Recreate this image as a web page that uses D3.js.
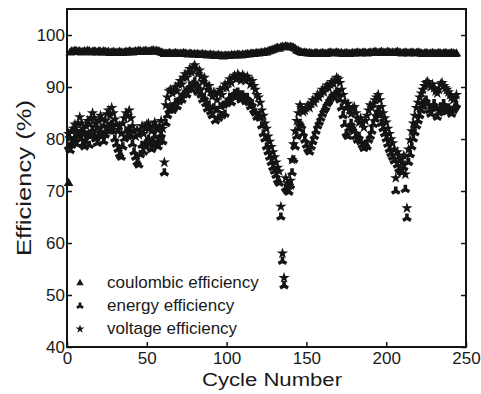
<!DOCTYPE html>
<html>
<head>
<meta charset="utf-8">
<script src="https://cdn.jsdelivr.net/npm/d3@7/dist/d3.min.js"></script>
<style>
  body { margin: 0; background: #fff; }
  svg { display: block; }
  text { font-family: "Liberation Sans", Arial, Helvetica, sans-serif; fill: #1a1a1a; }
</style>
</head>
<body>
<svg id="chart" width="481" height="394"></svg>
<script>
// Efficiency (%) per charge/discharge cycle, cycles 1..244
const coulombic = [
  71.5, 96.6, 96.8, 96.7, 96.9, 96.8, 96.7, 96.8, 96.6, 96.7,
  96.8, 96.7, 96.9, 96.8, 96.6, 96.7, 96.8, 96.7, 96.6, 96.8,
  96.7, 96.6, 96.8, 96.7, 96.6, 96.7, 96.5, 96.6, 96.7, 96.6,
  96.5, 96.6, 96.7, 96.6, 96.5, 96.6, 96.7, 96.6, 96.8, 96.7,
  96.6, 96.7, 96.8, 96.7, 96.9, 96.8, 96.7, 96.8, 96.9, 96.8,
  96.7, 96.8, 96.9, 97.0, 96.8, 96.9, 96.8, 96.7, 96.6, 96.5,
  96.3, 96.4, 96.3, 96.5, 96.4, 96.3, 96.4, 96.5, 96.4, 96.3,
  96.4, 96.3, 96.5, 96.4, 96.3, 96.2, 96.4, 96.3, 96.2, 96.3,
  96.2, 96.3, 96.1, 96.2, 96.3, 96.1, 96.2, 96.0, 96.1, 96.2,
  96.0, 96.1, 95.9, 96.0, 96.1, 95.9, 96.0, 95.8, 96.0, 95.9,
  96.0, 95.9, 96.1, 96.0, 96.1, 96.0, 96.2, 96.1, 96.0, 96.2,
  96.1, 96.2, 96.3, 96.2, 96.3, 96.4, 96.3, 96.4, 96.5, 96.4,
  96.5, 96.6, 96.5, 96.7, 96.6, 96.8, 96.9, 97.0, 97.1, 97.2,
  97.4, 97.5, 97.3, 97.6, 97.7, 97.6, 97.8, 97.7, 97.6, 97.7,
  97.6, 97.5, 97.3, 97.0, 96.9, 96.7, 96.6, 96.5, 96.6, 96.5,
  96.4, 96.5, 96.4, 96.3, 96.4, 96.5, 96.4, 96.3, 96.4, 96.5,
  96.4, 96.3, 96.4, 96.5, 96.6, 96.5, 96.4, 96.5, 96.6, 96.5,
  96.4, 96.5, 96.3, 96.4, 96.5, 96.4, 96.3, 96.4, 96.5, 96.4,
  96.5, 96.6, 96.5, 96.4, 96.5, 96.6, 96.5, 96.4, 96.5, 96.6,
  96.5, 96.6, 96.7, 96.6, 96.5, 96.6, 96.7, 96.6, 96.5, 96.6,
  96.7, 96.6, 96.5, 96.6, 96.5, 96.6, 96.7, 96.6, 96.5, 96.4,
  96.5, 96.6, 96.5, 96.4, 96.5, 96.6, 96.5, 96.4, 96.5, 96.6,
  96.5, 96.4, 96.3, 96.4, 96.5, 96.4, 96.3, 96.4, 96.5, 96.4,
  96.3, 96.4, 96.5, 96.4, 96.3, 96.4, 96.5, 96.4, 96.3, 96.4,
  96.5, 96.4, 96.3, 96.4
];

const energy = [
  78.5, 77.8, 78.8, 79.5, 80.0, 79.0, 80.5, 81.0, 80.0, 79.0,
  78.5, 79.5, 80.8, 78.8, 80.5, 81.8, 80.8, 80.0, 79.2, 80.8,
  81.5, 80.5, 79.5, 80.8, 81.8, 82.5, 81.5, 82.8, 81.5, 80.0,
  79.0, 78.0, 77.0, 76.5, 78.5, 80.0, 81.5, 80.5, 81.8, 80.5,
  79.0, 77.5, 76.5, 75.5, 75.0, 77.0, 78.8, 77.5, 78.5, 79.5,
  80.0, 79.0, 78.0, 79.2, 80.5, 79.0, 78.5, 79.5, 80.8, 79.5,
  73.5, 83.0, 84.5, 85.5, 86.2, 85.5, 86.0, 87.0, 86.2, 87.2,
  88.0, 87.5, 88.5, 89.0, 88.5, 89.5, 90.2, 89.5, 90.5, 91.0,
  90.2, 89.0, 89.8, 88.5, 87.5, 88.0, 86.8, 85.8, 86.5, 85.2,
  84.5, 86.0, 83.5, 85.5, 84.0, 86.2, 84.5, 86.5, 84.8, 86.8,
  87.2, 88.0, 87.0, 88.2, 88.8, 88.0, 89.0, 88.5, 87.5, 88.5,
  88.0, 87.2, 88.0, 87.0, 86.2, 86.8, 85.5, 85.0, 84.2, 84.5,
  84.0, 82.5, 81.0, 80.0, 78.5, 77.5, 76.5, 75.5, 74.5, 73.8,
  73.0, 72.0, 71.5, 65.0, 56.5, 51.8, 70.5, 70.0, 69.8, 71.0,
  73.5, 76.0, 78.5, 80.5, 82.0, 83.0, 82.5, 81.0, 79.8, 78.8,
  78.0, 77.5, 78.5, 79.5, 80.5, 81.5, 82.5, 83.2, 84.0, 84.8,
  85.5, 86.0, 86.8, 87.2, 87.8, 88.2, 88.0, 88.6, 89.0, 88.8,
  87.5, 86.0, 84.5, 82.8, 81.0, 80.5, 82.0, 83.0, 82.0, 81.5,
  80.5, 79.8, 80.5, 79.5, 78.8, 78.2, 79.0, 78.5, 79.8, 80.5,
  81.5, 82.8, 83.8, 84.8, 85.5, 84.5, 83.0, 82.0, 81.0, 80.0,
  79.0, 78.0, 77.2, 76.5, 75.8, 70.0, 75.0, 74.2, 73.8, 73.5,
  74.5, 70.3, 64.8, 75.5, 77.0, 78.5, 80.0, 81.2, 82.5, 83.5,
  84.5, 85.5, 86.2, 87.0, 87.5, 86.8, 85.5, 84.8, 86.0, 86.8,
  85.8, 84.2, 85.0, 86.2, 85.5, 86.8, 86.0, 85.2, 86.0, 85.5,
  84.8, 85.5, 86.0, 86.5
];

const voltage = [
  81.0, 80.2, 81.5, 82.0, 82.8, 81.5, 83.0, 84.2, 83.0, 82.0,
  81.2, 82.5, 83.5, 82.8, 84.0, 85.0, 84.0, 83.0, 82.2, 83.5,
  84.5, 83.8, 82.5, 83.5, 84.8, 85.5, 84.5, 86.0, 85.0, 83.8,
  82.8, 81.8, 82.5, 81.0, 83.0, 84.0, 85.0, 84.5, 85.5, 84.0,
  82.5, 81.5, 80.5, 81.8, 80.8, 81.5, 82.5, 81.0, 82.0, 82.8,
  83.0, 82.2, 81.5, 82.5, 83.2, 82.0, 81.8, 82.5, 83.5, 82.0,
  75.5, 86.5, 88.0, 89.2, 89.5, 88.8, 89.5, 90.0, 89.2, 90.5,
  91.2, 90.5, 91.8, 92.5, 91.8, 92.8, 93.5, 92.8, 93.8, 94.2,
  93.5, 92.5, 93.2, 92.0, 91.0, 91.8, 90.5, 89.5, 90.2, 89.0,
  88.2, 89.0, 88.5, 87.5, 88.8, 89.5, 88.5, 89.8, 90.5, 89.8,
  90.8, 91.5, 90.8, 91.8, 92.2, 91.5, 92.5, 92.0, 91.2, 92.3,
  92.0, 91.2, 92.0, 91.5, 90.5, 91.2, 90.2, 89.5, 88.5, 88.0,
  87.0, 85.5, 84.5, 83.0, 82.0, 80.5, 79.5, 78.5, 77.5, 76.5,
  75.5, 74.5, 73.8, 67.0, 58.0, 53.3, 72.5, 71.5, 71.0, 72.0,
  76.0, 79.0, 81.5, 83.5, 85.0, 86.5, 86.0, 85.2, 85.5, 86.0,
  86.5, 86.0, 86.8, 87.5, 87.0, 87.8, 88.5, 88.0, 88.8, 89.5,
  89.0, 89.8, 90.3, 89.8, 90.5, 91.0, 90.6, 91.3, 91.8, 91.5,
  90.8, 89.5, 88.5, 87.2, 86.0, 86.8, 85.5, 84.8, 85.8, 86.2,
  85.0, 84.0, 83.2, 84.0, 83.0, 82.2, 83.5, 84.5, 85.5, 86.5,
  86.0, 86.8, 87.5, 88.0, 88.5, 87.5, 86.2, 85.0, 84.0, 83.2,
  82.0, 81.0, 80.0, 79.2, 78.0, 72.5, 77.5, 76.8, 76.0, 75.5,
  76.8, 73.2, 66.7, 78.0, 79.8, 81.5, 83.0, 84.5, 86.0, 87.0,
  88.0, 88.8, 89.5, 90.2, 90.8, 91.0, 90.5, 90.0, 90.5, 89.8,
  89.2, 88.8, 89.5, 90.5, 90.8, 90.2, 89.8, 89.5, 89.0, 88.5,
  88.0, 87.5, 87.8, 88.5
];

const seriesNames = ["coulombic efficiency", "energy efficiency", "voltage efficiency"];
const xTicks = [0, 50, 100, 150, 200, 250];
const yTicks = [40, 50, 60, 70, 80, 90, 100];

const svg = d3.select("#chart");
const ink = "#141414";

const x = d3.scaleLinear().domain([0, 250]).range([67, 466]);
const y = d3.scaleLinear().domain([40, 105]).range([347, 9]);

// marker shapes: triangle, downward three-arm wye, star
const symbols = [
  { type: d3.symbolTriangle, size: 40, legendSize: 24, rot: 0 },
  { type: d3.symbolWye, size: 44, legendSize: 26, rot: 180 },
  { type: d3.symbolStar, size: 40, legendSize: 24, rot: 0 }
];

const series = [coulombic, energy, voltage];

series.forEach((vals, si) => {
  const s = symbols[si];
  const path = d3.symbol().type(s.type).size(s.size)();
  svg.append("g")
    .selectAll("path")
    .data(vals.map((v, i) => ({ c: i + 1, v })))
    .join("path")
    .attr("d", path)
    .attr("transform", d => `translate(${x(d.c)},${y(d.v)}) rotate(${s.rot})`)
    .attr("fill", ink);
});

// axes with inward ticks
const left = svg.append("g").attr("transform", `translate(${x(0)},0)`)
  .call(d3.axisLeft(y).tickValues(yTicks).tickSize(-5).tickPadding(2).tickFormat(d3.format("d")));
const right = svg.append("g").attr("transform", `translate(${x(250)},0)`)
  .call(d3.axisRight(y).tickValues(yTicks).tickSize(-5).tickFormat(""));
const bottom = svg.append("g").attr("transform", `translate(0,${y(40)})`)
  .call(d3.axisBottom(x).tickValues(xTicks).tickSize(-5).tickPadding(5).tickFormat(d3.format("d")));

[left, right, bottom].forEach(g => {
  g.select(".domain").remove();
  g.selectAll(".tick line").attr("stroke", ink).attr("stroke-width", 1.5);
  g.selectAll("text").attr("font-size", 17).attr("fill", "#1a1a1a")
    .style("font-family", '"Liberation Sans", Arial, sans-serif');
});

// frame
svg.append("rect")
  .attr("x", x(0)).attr("y", y(105))
  .attr("width", x(250) - x(0)).attr("height", y(40) - y(105))
  .attr("fill", "none").attr("stroke", ink).attr("stroke-width", 2);

// axis titles
svg.append("text")
  .attr("x", 272).attr("y", 386)
  .attr("text-anchor", "middle")
  .attr("font-size", 18)
  .attr("textLength", 140).attr("lengthAdjust", "spacingAndGlyphs")
  .text("Cycle Number");

svg.append("text")
  .attr("transform", `translate(31,${(y(40) + y(105)) / 2}) rotate(-90)`)
  .attr("text-anchor", "middle")
  .attr("font-size", 20)
  .attr("textLength", 156).attr("lengthAdjust", "spacingAndGlyphs")
  .text("Efficiency (%)");

// legend
const legend = svg.append("g");
const rowsY = [283, 306, 329];
seriesNames.forEach((name, i) => {
  const s = symbols[i];
  legend.append("path")
    .attr("d", d3.symbol().type(s.type).size(s.legendSize)())
    .attr("transform", `translate(80,${rowsY[i]}) rotate(${s.rot})`)
    .attr("fill", ink);
  legend.append("text")
    .attr("x", 107).attr("y", rowsY[i] + 5)
    .attr("font-size", 17)
    .text(name);
});
</script>
</body>
</html>
